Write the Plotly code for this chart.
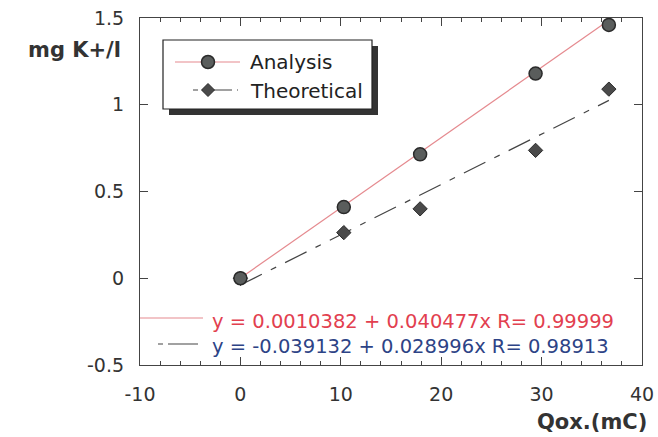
import plotly.graph_objects as go

# Data
qox = [0, 10.3, 17.9, 29.4, 36.7]
analysis = [0.0, 0.41, 0.714, 1.18, 1.46]
theoretical = [0.0, 0.263, 0.40, 0.737, 1.09]

fit_x = [0, 36.7]
fit_analysis = [0.001, 1.487]
fit_theoretical = [-0.039, 1.025]

eq_analysis = "y = 0.0010382 + 0.040477x R= 0.99999"
eq_theoretical = "y = -0.039132 + 0.028996x R= 0.98913"

x_ticks = [-10, 0, 10, 20, 30, 40]
x_labels = ["-10", "0", "10", "20", "30", "40"]
y_ticks = [-0.5, 0, 0.5, 1, 1.5]
y_labels = ["-0.5", "0", "0.5", "1", "1.5"]

RED = "#e2404f"
BLUE = "#2d4386"
FONT = "DejaVu Sans, Arial, sans-serif"

# plot-area pixel geometry
L, R, T, B = 140, 642, 18, 365
W, H = R - L, B - T


def px(x):
    return (x - L) / W


def py(y):
    return (B - y) / H


fig = go.Figure()

# regression lines
fig.add_trace(go.Scatter(x=fit_x, y=fit_analysis, mode="lines",
                         line=dict(color="#e58a8f", width=1.2), showlegend=False, hoverinfo="skip"))
fig.add_trace(go.Scatter(x=fit_x, y=fit_theoretical, mode="lines",
                         line=dict(color="#444", width=1.2, dash="24px,10px,6px,10px"),
                         showlegend=False, hoverinfo="skip"))

# data
fig.add_trace(go.Scatter(x=qox, y=theoretical, mode="markers", name="Theoretical",
                         marker=dict(symbol="diamond", size=11, color="#4a4a4a",
                                     line=dict(color="#2a2a2a", width=1))))
fig.add_trace(go.Scatter(x=qox, y=analysis, mode="markers", name="Analysis",
                         marker=dict(symbol="circle", size=13, color="#5a5d5c",
                                     line=dict(color="#2a2a2a", width=1.5))))

shapes = []
# legend box shadow + box
shapes.append(dict(type="rect", xref="paper", yref="paper",
                   x0=px(169), x1=px(378), y0=py(115), y1=py(46),
                   fillcolor="#333", line=dict(width=0), layer="below"))
shapes.append(dict(type="rect", xref="paper", yref="paper",
                   x0=px(163), x1=px(372), y0=py(109), y1=py(40),
                   fillcolor="white", line=dict(color="#222", width=1.2), layer="below"))
# legend line samples
shapes.append(dict(type="line", xref="paper", yref="paper",
                   x0=px(175), x1=px(240), y0=py(62), y1=py(62),
                   line=dict(color="#e58a8f", width=1.2), layer="below"))
shapes.append(dict(type="line", xref="paper", yref="paper",
                   x0=px(193), x1=px(238), y0=py(90), y1=py(90),
                   line=dict(color="#444", width=1.2, dash="5px,4px,30px"), layer="below"))
# equation line samples
shapes.append(dict(type="line", xref="paper", yref="paper",
                   x0=0, x1=px(203), y0=py(318), y1=py(318),
                   line=dict(color="#e58a8f", width=1.2)))
shapes.append(dict(type="line", xref="paper", yref="paper",
                   x0=px(158), x1=px(203), y0=py(344), y1=py(344),
                   line=dict(color="#444", width=1.2, dash="5px,5px,30px")))

# legend markers
fig.add_trace(go.Scatter(x=[px(208)], y=[py(62)], xaxis="x2", yaxis="y2",
                         mode="markers", showlegend=False, hoverinfo="skip",
                         marker=dict(symbol="circle", size=13, color="#5a5d5c",
                                     line=dict(color="#2a2a2a", width=1.5))))
fig.add_trace(go.Scatter(x=[px(208)], y=[py(90)], xaxis="x2", yaxis="y2",
                         mode="markers", showlegend=False, hoverinfo="skip",
                         marker=dict(symbol="diamond", size=10, color="#4a4a4a",
                                     line=dict(color="#2a2a2a", width=1))))

annotations = [
    dict(text="Analysis", xref="paper", yref="paper", x=px(248), y=py(62),
         xanchor="left", yanchor="middle", showarrow=False,
         font=dict(family=FONT, size=20, color="#222")),
    dict(text="Theoretical", xref="paper", yref="paper", x=px(248), y=py(91),
         xanchor="left", yanchor="middle", showarrow=False,
         font=dict(family=FONT, size=20, color="#222")),
    dict(text=eq_analysis, xref="paper", yref="paper", x=px(210), y=py(321),
         xanchor="left", yanchor="middle", showarrow=False,
         font=dict(family=FONT, size=19.5, color=RED)),
    dict(text=eq_theoretical, xref="paper", yref="paper", x=px(210), y=py(346),
         xanchor="left", yanchor="middle", showarrow=False,
         font=dict(family=FONT, size=19.5, color=BLUE)),
    dict(text="<b>mg K+/l</b>", xref="paper", yref="paper", x=px(123), y=py(50),
         xanchor="right", yanchor="middle", showarrow=False,
         font=dict(family=FONT, size=21, color="#333")),
    dict(text="<b>Qox.(mC)</b>", xref="paper", yref="paper", x=px(649), y=py(422),
         xanchor="right", yanchor="middle", showarrow=False,
         font=dict(family=FONT, size=21, color="#333")),
]

axis_common = dict(showline=True, linecolor="#444", linewidth=1.2, mirror="allticks",
                   ticks="inside", tickcolor="#444", showgrid=False, zeroline=False,
                   automargin=False,
                   tickfont=dict(family=FONT, size=19, color="#333"))

fig.update_layout(
    width=658, height=437,
    margin=dict(l=L, r=658 - R, t=T, b=437 - B, pad=0),
    paper_bgcolor="white", plot_bgcolor="white",
    showlegend=False,
    shapes=shapes, annotations=annotations,
    xaxis=dict(range=[-10, 40], tickvals=x_ticks, ticktext=x_labels, ticklen=8, tickwidth=1,
               minor=dict(ticks="inside", ticklen=4, dtick=2, tickcolor="#444", showgrid=False),
               ticklabelstandoff=12, **axis_common),
    yaxis=dict(range=[-0.5, 1.5], tickvals=y_ticks, ticktext=y_labels, ticklen=8, tickwidth=1,
               ticklabelstandoff=11, **axis_common),
    xaxis2=dict(range=[0, 1], overlaying="x", visible=False, fixedrange=True),
    yaxis2=dict(range=[0, 1], overlaying="y", visible=False, fixedrange=True),
    font=dict(family=FONT),
)

fig.write_html("out.html", config={"displayModeBar": False})

# remove the default page margin so the figure sits at the window's top-left corner
with open("out.html", "r", encoding="utf-8") as f:
    html = f.read()
html = html.replace("<head>", "<head><style>html,body{margin:0;padding:0;overflow:hidden;}</style>", 1)
with open("out.html", "w", encoding="utf-8") as f:
    f.write(html)
